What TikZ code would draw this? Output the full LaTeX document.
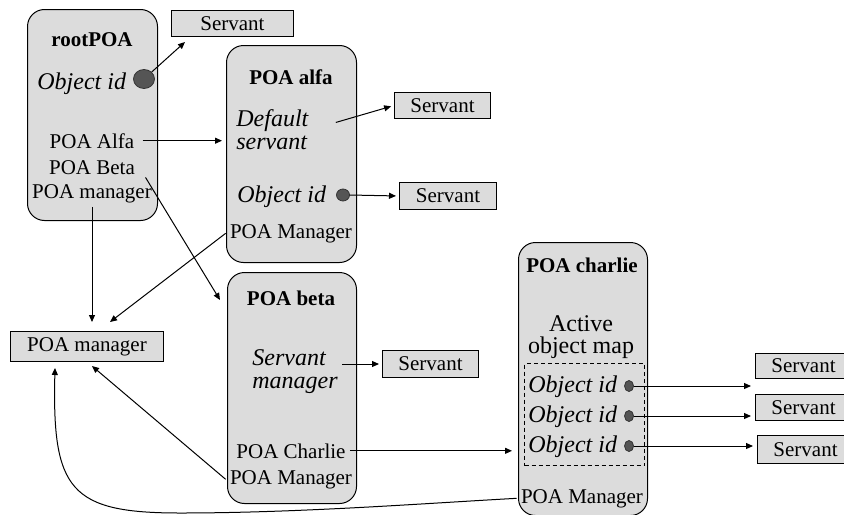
\documentclass[tikz,border=0pt]{standalone}
\usepackage{fontspec}
\setmainfont{Liberation Serif}
\usetikzlibrary{arrows.meta,shapes.geometric}
\definecolor{poagray}{HTML}{DCDCDC}
\definecolor{dotgray}{HTML}{555555}

\begin{document}
\begin{tikzpicture}[x=0.5pt, y=-0.5pt,
  poa/.style={draw, fill=poagray, rounded corners=8.5pt, line width=0.5pt, anchor=north west, inner sep=0pt},
  srv/.style={draw, fill=poagray, line width=0.5pt, inner sep=0pt, anchor=north west, font=\fontsize{10.5}{12}\selectfont},
  txt/.style={inner sep=2pt, font=\fontsize{10.5}{12}\selectfont},
  hd/.style={inner sep=2pt, font=\fontsize{10.5}{12}\selectfont\bfseries},
  ital/.style={inner sep=2pt, font=\fontsize{12}{11.5}\selectfont\itshape, align=left},
  oid/.style={ellipse, draw=black!80, fill=dotgray, inner sep=0pt, line width=0.4pt},
  mapbox/.style={draw, dash pattern=on 2pt off 1.5pt, line width=0.5pt, anchor=north west, inner sep=0pt},
  arr/.style={-{Triangle[length=3.5pt, width=3pt]}, line width=0.5pt}
]
\useasboundingbox (0,0) rectangle (844,514);
\node[poa, minimum width=65pt, minimum height=105.5pt] (root) at (27,9) {};
\node[poa, minimum width=65pt, minimum height=108.5pt] (alfa) at (226,45) {};
\node[poa, minimum width=64.5pt, minimum height=115.5pt] (beta) at (227,272) {};
\node[poa, minimum width=64.5pt, minimum height=136.5pt] (charlie) at (518,242) {};
\node[srv, minimum width=76.5pt, minimum height=15pt] (pm) at (10,331) {POA manager};
\foreach \n/\x/\y/\w/\h in {s0/171/10/61/13, sa1/394/92/48/13, sa2/399/182/48.5/13.5, sb/382/350/48/13.5,
  sc1/755/353/48/12.5, sc2/755/394/48/13, sc3/757/435/48/14}
  \node[srv, minimum width=\w pt, minimum height=\h pt] (\n) at (\x,\y) {Servant};

\node[hd, anchor=base] (rtitle) at (92,46) {rootPOA};
\node[ital, anchor=base west] (roid) at (33,89) {Object id};
\node[oid, minimum width=10.5pt, minimum height=9.5pt] (d0) at (144,79) {};
\node[txt, anchor=base] (ralfa) at (92,148) {POA Alfa};
\node[txt, anchor=base] (rbeta) at (92,174) {POA Beta};
\node[txt, anchor=base] (rmgr) at (92,198) {POA manager};

\node[hd, anchor=base] (atitle) at (291,84) {POA alfa};
\node[ital, anchor=base west] (adef) at (232,149) {Default\\servant};
\node[ital, anchor=base west] (aoid) at (233,202) {Object id};
\node[oid, minimum width=6.5pt, minimum height=6pt] (d1) at (343,195) {};
\node[txt, anchor=base] (amgr) at (291,238) {POA Manager};

\node[hd, anchor=base] (btitle) at (291,305) {POA beta};
\node[ital, anchor=base west] (bsm) at (248,388) {Servant\\manager};
\node[txt, anchor=base] (bch) at (291,458) {POA Charlie};
\node[txt, anchor=base] (bmgr) at (291,484) {POA Manager};

\node[hd, anchor=base] (ctitle) at (582,272) {POA charlie};
\node[txt, font=\fontsize{12}{11}\selectfont, align=center, anchor=base] (cmap) at (581,353) {Active\\object map};
\node[mapbox, minimum width=60pt, minimum height=51pt] (aom) at (524,363) {};
\foreach \i/\y in {1/392, 2/422, 3/452} {
  \node[ital, anchor=base west] (coid\i) at (524,\y) {Object id};
  \node[oid, minimum width=4.5pt, minimum height=5.5pt] (d2\i) at (629,\y-6) {};
}
\node[txt, anchor=base] (cmgr) at (582,503) {POA Manager};

\coordinate (t0) at (185,42);
\coordinate (tb) at (220,300);
\coordinate (ta) at (110,322);
\coordinate (tc) at (92,366);
\coordinate (cb) at (180,513);
\coordinate (tm) at (55,368);

\draw[arr] (d0.north east) -- (t0);
\draw[arr, shorten <=2pt, shorten >=2pt] (ralfa.east) -- (ralfa.east -| alfa.west);
\draw[arr, shorten <=6pt] (rbeta.east) -- (tb);
\draw[arr, shorten >=4.5pt] (rmgr.south) -- (rmgr.south |- pm.north);
\draw[arr] (amgr.west) -- (ta);
\draw[arr] (bmgr.west) -- (tc);
\draw[arr] (cmgr.west) .. controls (430,503) and (300,513) .. (cb) .. controls (70,513) and (52,490) .. (tm);
\draw[arr, shorten <=12pt, shorten >=1.5pt] (adef.east) -- (sa1.west);
\draw[arr, shorten >=1.5pt] (d1.east) -- (sa2.west);
\draw[arr, shorten >=1.5pt] (sb.west -| bsm.east) -- (sb.west);
\draw[arr, shorten >=3pt] (bch.east) -- (bch.east -| charlie.west);
\foreach \i in {1,2,3} \draw[arr, shorten >=2pt] (d2\i.east) -- (d2\i.east -| sc\i.west);
\end{tikzpicture}
\end{document}
